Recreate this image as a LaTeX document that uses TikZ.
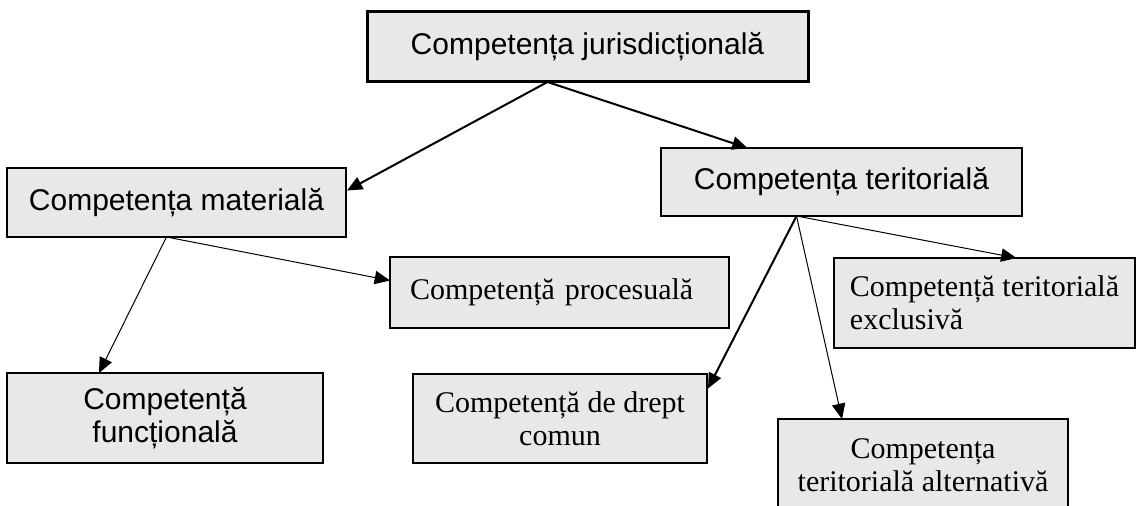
\documentclass[tikz,border=0pt]{standalone}
\usepackage{fontspec}
\setmainfont{Liberation Serif}
\setsansfont{Liberation Sans}
\usetikzlibrary{arrows.meta,calc}

\begin{document}
\begin{tikzpicture}[x=0.75pt,y=-0.75pt,
  box/.style={draw,fill=black!9,line width=0.9pt,outer sep=0pt,inner sep=0pt,align=center},
  sbox/.style={box,font=\sffamily\fontsize{22.5}{25}\selectfont},
  rbox/.style={box,font=\fontsize{22.5}{25}\selectfont},
  heavy/.style={line width=1.5pt,-{Triangle[length=11.5pt,width=10pt]}},
  light/.style={line width=0.75pt,-{Triangle[length=11.5pt,width=10pt]}}]
\useasboundingbox (0,0) rectangle (1137,506);

\node[sbox,line width=2.25pt,minimum width=330.75pt,minimum height=52.5pt] (jur) at (587.5,47) {Competența jurisdicțională};
\node[sbox,minimum width=254.25pt,minimum height=51.75pt] (mat) at (176.5,202.5) {Competența materială};
\node[sbox,minimum width=270.75pt,minimum height=51pt] (ter) at (841.5,182) {Competența teritorială};
\node[rbox,align=left,text width=224.25pt,inner xsep=15pt,minimum height=53.25pt] (proc) at (559.5,292.5) {Competență procesuală};
\node[sbox,minimum width=237pt,minimum height=67.5pt] (func) at (165,418) {Competență\\funcțională};
\node[rbox,minimum width=220.5pt,minimum height=66.75pt] (drept) at (560,418.5) {Competență de drept\\comun};
\node[rbox,align=left,minimum width=225.75pt,minimum height=67.5pt] (excl) at (984.5,303) {Competență teritorială\\exclusivă};
\node[rbox,minimum width=217.5pt,minimum height=69pt] (alt) at (923,465) {Competența\\teritorială alternativă};

% fork points
\coordinate (jfork) at ($(jur.south)+(-40,0)$);
\coordinate (mfork) at ($(mat.south)+(-10,0)$);
\coordinate (tfork) at ($(ter.south)+(-45,0)$);

\draw[heavy] (jfork) -- ($(mat.east)+(1,-12)$);
\draw[heavy] (jfork) -- ($(ter.north)+(-94,0)$);
\draw[light] (mfork) -- ($(func.north)+(-66,0)$);
\draw[light] (mfork) -- ($(proc.west)+(0,-12)$);
\draw[light] (tfork) -- ($(excl.north)+(32,0)$);
\draw[heavy] (tfork) -- ($(drept.east)+(1,-30)$);
\draw[light] (tfork) -- ($(alt.north)+(-81,0)$);
\end{tikzpicture}
\end{document}
